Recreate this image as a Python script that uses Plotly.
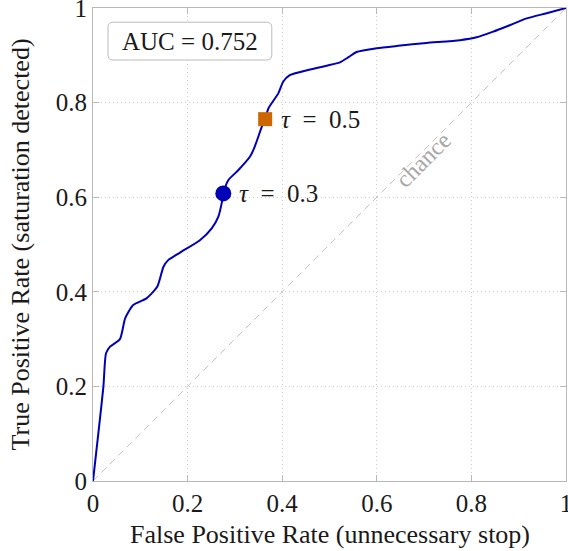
import plotly.graph_objects as go

fpr = [0, 0.022, 0.0275, 0.036, 0.057, 0.068, 0.085, 0.113, 0.136, 0.149, 0.159, 0.184,
       0.226, 0.251, 0.265, 0.272, 0.2755, 0.286, 0.307, 0.332, 0.342, 0.357, 0.364,
       0.371, 0.392, 0.402, 0.416, 0.459, 0.494, 0.522, 0.54, 0.557, 0.6, 0.645, 0.705,
       0.776, 0.811, 0.846, 0.882, 0.917, 0.959, 1.0]
tpr = [0, 0.2, 0.27, 0.284, 0.30, 0.344, 0.372, 0.386, 0.411, 0.453, 0.467, 0.483,
       0.509, 0.534, 0.559, 0.587, 0.608, 0.636, 0.657, 0.686, 0.707, 0.749, 0.765,
       0.788, 0.82, 0.844, 0.858, 0.870, 0.878, 0.885, 0.896, 0.907, 0.915, 0.92, 0.926,
       0.932, 0.938, 0.95, 0.964, 0.978, 0.989, 1.0]

chance_x = [0, 1]
chance_y = [0, 1]

tau03 = (0.2755, 0.608)
tau05 = (0.364, 0.765)
auc = 0.752

tick_vals = [0, 0.2, 0.4, 0.6, 0.8, 1]
tick_text = ["0", "0.2", "0.4", "0.6", "0.8", "1"]

x_title = "False Positive Rate (unnecessary stop)"
y_title = "True Positive Rate (saturation detected)"

FONT = "Liberation Serif"
BLUE = "#0000b4"
ORANGE = "#cc6600"
TXT = "#1a1a1a"

fig = go.Figure()
fig.add_trace(go.Scatter(x=chance_x, y=chance_y, mode="lines",
                         line=dict(color="#c4c4c4", width=1, dash="7px,5px"),
                         hoverinfo="skip", showlegend=False))
fig.add_trace(go.Scatter(x=fpr, y=tpr, mode="lines",
                         line=dict(color=BLUE, width=2, shape="spline", smoothing=0.6),
                         showlegend=False))
fig.add_trace(go.Scatter(x=[tau03[0]], y=[tau03[1]], mode="markers",
                         marker=dict(symbol="circle", size=16, color=BLUE), showlegend=False))
fig.add_trace(go.Scatter(x=[tau05[0]], y=[tau05[1]], mode="markers",
                         marker=dict(symbol="square", size=14, color=ORANGE), showlegend=False))

fig.add_annotation(x=tau03[0], y=tau03[1], text="<i>τ</i>  =  0.3", showarrow=False,
                   xanchor="left", yanchor="middle", xshift=14,
                   font=dict(family=FONT, size=25, color=TXT))
fig.add_annotation(x=tau05[0], y=tau05[1], text="<i>τ</i>  =  0.5", showarrow=False,
                   xanchor="left", yanchor="middle", xshift=14,
                   font=dict(family=FONT, size=25, color=TXT))

# rounded box for AUC label (in data coords)
bx0, bx1, by0, by1, r = 0.0317, 0.378, 0.890, 0.970, 0.011
path = (f"M {bx0+r},{by0} L {bx1-r},{by0} Q {bx1},{by0} {bx1},{by0+r} "
        f"L {bx1},{by1-r} Q {bx1},{by1} {bx1-r},{by1} L {bx0+r},{by1} "
        f"Q {bx0},{by1} {bx0},{by1-r} L {bx0},{by0+r} Q {bx0},{by0} {bx0+r},{by0} Z")
fig.add_shape(type="path", path=path, xref="x", yref="y",
              line=dict(color="#bbbbbb", width=1), fillcolor="white", layer="above")
fig.add_annotation(x=(bx0 + bx1) / 2, y=(by0 + by1) / 2, text=f"AUC = {auc}", showarrow=False,
                   xanchor="center", yanchor="middle",
                   font=dict(family=FONT, size=25, color=TXT))
fig.add_annotation(x=0.698, y=0.679, text="chance", showarrow=False, textangle=-45,
                   font=dict(family=FONT, size=24, color="#a8a8a8"))

# axis titles
fig.add_annotation(x=0.5, xref="paper", y=535, yref="paper", yanchor="middle",
                   text=x_title, showarrow=False,
                   font=dict(family=FONT, size=26, color=TXT))
fig.add_annotation(x=20, xref="paper", y=0.5, yref="paper", xanchor="center",
                   text=y_title, showarrow=False, textangle=-90,
                   font=dict(family=FONT, size=26, color=TXT))

axis_common = dict(range=[0, 1], tickvals=tick_vals, ticktext=tick_text,
                   showgrid=True, gridcolor="#cfcfcf", griddash="1px,3px", gridwidth=1,
                   showline=True, linecolor="#b8b8b8", linewidth=1, mirror="ticks",
                   ticks="inside", ticklen=6, tickcolor="#b8b8b8",
                   ticklabeloverflow="allow", automargin=False,
                   zeroline=False, tickfont=dict(family=FONT, size=25, color=TXT),
                   fixedrange=True)

fig.update_layout(
    width=568, height=551,
    margin=dict(l=93, r=2, t=8, b=70),
    plot_bgcolor="white", paper_bgcolor="white",
    xaxis=dict(**axis_common),
    yaxis=dict(**axis_common),
)

# convert pixel positions for titles to paper coords
pw, ph = 568 - 93 - 2, 551 - 8 - 70
fig.layout.annotations[-2].y = (481 - 534) / ph
fig.layout.annotations[-1].x = (20 - 93) / pw

fig.write_html("out.html")
